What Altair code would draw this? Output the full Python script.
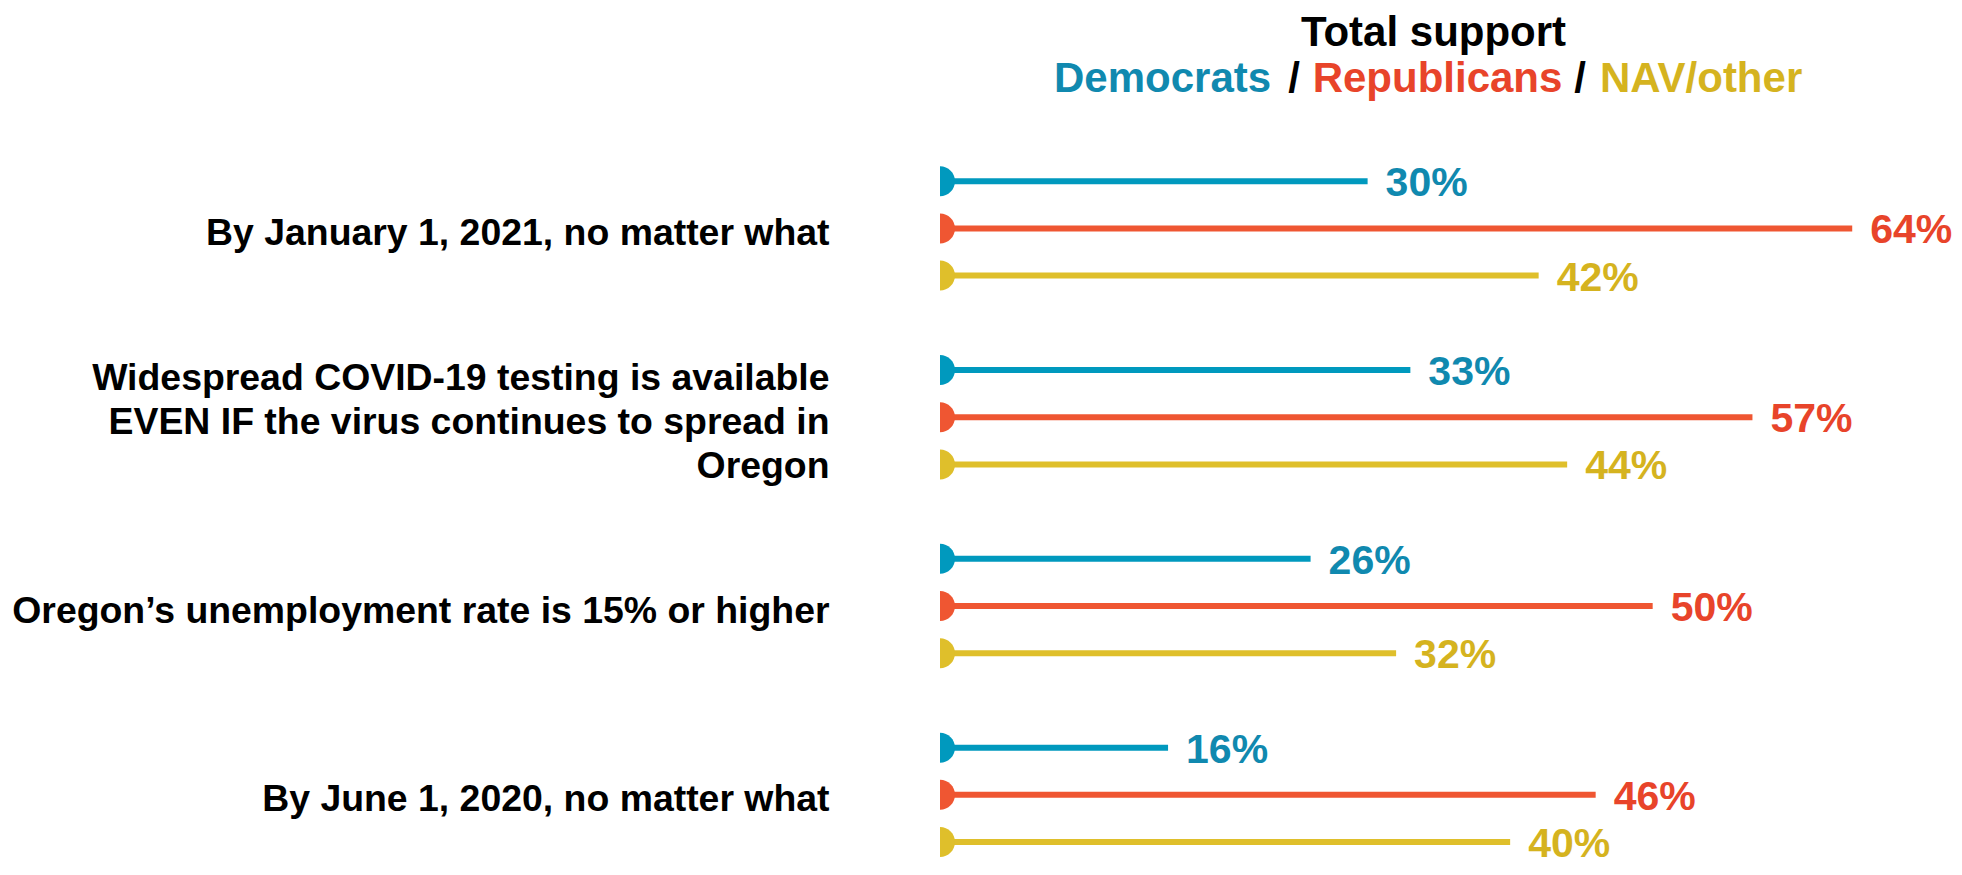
import json
import altair as alt
import pandas as pd

# ---------------- data ----------------
categories = [
    "By January 1, 2021, no matter what",
    "Widespread COVID-19 testing is available\nEVEN IF the virus continues to spread in\nOregon",
    "Oregon’s unemployment rate is 15% or higher",
    "By June 1, 2020, no matter what",
]
parties = ["Democrats", "Republicans", "NAV/other"]
democrats = [30, 33, 26, 16]
republicans = [64, 57, 50, 46]
nav_other = [42, 44, 32, 40]

title_text = "Total support"
subtitle_parts = ["Democrats", "/", "Republicans", "/", "NAV/other"]

# ---------------- styles ----------------
FONT = "Liberation Sans"
line_colors = ["#0099BE", "#EF5632", "#DFBF2B"]
text_colors = ["#1089AF", "#E8442A", "#D5B31F"]
subtitle_colors = [text_colors[0], "#000000", text_colors[1], "#000000", text_colors[2]]
subtitle_x = [114, 354, 497.5, 640, 660]
subtitle_align = ["left", "center", "center", "center", "left"]
LINE_H = 44
BASE_OFFSET = 5

series = [democrats, republicans, nav_other]
records = []
for g, cat in enumerate(categories):
    for k, party in enumerate(parties):
        records.append({"category": cat, "party": party,
                        "value": series[k][g], "row": 4 * g + k})
df = pd.DataFrame(records)

label_rows = [4 * g + 1 for g in range(len(categories))]
expr = ""
offset_conds = []
for g, cat in enumerate(categories):
    lines = cat.split("\n")
    expr += f"datum.value == {label_rows[g]} ? {json.dumps(lines, ensure_ascii=False)} : "
    if len(lines) > 1:
        offset_conds.append({"test": f"datum.value == {label_rows[g]}",
                             "value": BASE_OFFSET - (len(lines) - 1) * LINE_H / 2})
expr += "''"
label_offset = {"condition": offset_conds, "value": BASE_OFFSET} if offset_conds else BASE_OFFSET

y_enc = alt.Y(
    "row:Q",
    scale=alt.Scale(domain=[-1, 14.38], reverse=True, nice=False, zero=False),
    axis=alt.Axis(
        values=label_rows, labelExpr=expr, ticks=False, domain=False, grid=False,
        labelPadding=111, labelLimit=1000, labelFont=FONT, labelFontSize=37.4,
        labelFontWeight="bold", labelColor="#000000", labelLineHeight=LINE_H,
        labelOffset=label_offset, labelAlign="right", labelBaseline="middle",
        labelOverlap=False, labelFlush=False, title=None,
    ),
)
x_scale = alt.Scale(domain=[0, 71], nice=False, zero=True)

line_color = alt.Color("party:N", scale=alt.Scale(domain=parties, range=line_colors), legend=None)
text_color = alt.Color("party:N", scale=alt.Scale(domain=parties, range=text_colors), legend=None)

base = alt.Chart(df)

rules = base.transform_calculate(zero="0").mark_rule(strokeWidth=6, strokeCap="butt").encode(
    x=alt.X("zero:Q", scale=x_scale, axis=None),
    x2="value:Q",
    y=y_enc,
    color=line_color,
)

HALF = "M0,-1A1,1,0,0,1,0,1Z"
dots = base.transform_calculate(zero="0").mark_point(
    shape=HALF, filled=True, size=900, opacity=1, strokeWidth=0
).encode(
    x=alt.X("zero:Q", scale=x_scale, axis=None),
    y=y_enc,
    color=line_color,
)

labels = base.transform_calculate(label="datum.value + '%'").mark_text(
    align="left", baseline="alphabetic", dx=18, dy=15,
    font=FONT, fontSize=41, fontWeight="bold",
).encode(
    x=alt.X("value:Q", scale=x_scale, axis=None),
    y=y_enc,
    text="label:N",
    color=text_color,
)

title = alt.Chart(pd.DataFrame({"t": [title_text]})).mark_text(
    align="center", baseline="alphabetic", font=FONT, fontSize=42,
    fontWeight="bold", color="#000000",
).encode(text="t:N", x=alt.value(493.5), y=alt.value(-88))

subs = []
for txt, col, xx, al in zip(subtitle_parts, subtitle_colors, subtitle_x, subtitle_align):
    subs.append(
        alt.Chart(pd.DataFrame({"t": [txt]})).mark_text(
            align=al, baseline="alphabetic", font=FONT, fontSize=42,
            fontWeight="bold", color=col,
        ).encode(text="t:N", x=alt.value(xx), y=alt.value(-42))
    )

chart = alt.layer(rules, dots, labels, title, *subs).resolve_scale(
    color="independent"
).properties(
    width=1012,
    height=726,
    padding={"left": 932, "top": 126, "right": 0, "bottom": 0},
    autosize=alt.AutoSizeParams(type="none"),
    background="white",
).configure_view(stroke=None)

chart.save("out.html", embed_options={"renderer": "svg", "actions": False})
